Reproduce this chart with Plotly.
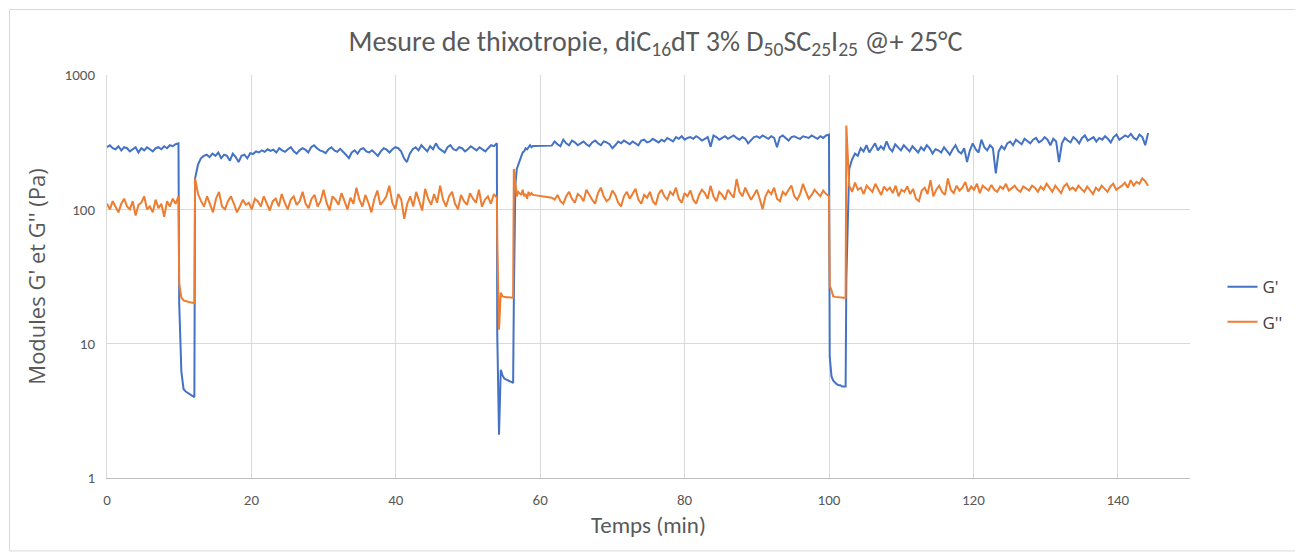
import numpy as np
import plotly.graph_objects as go

# ---- Data ----
# Each segment: (t_start, t_end), G' values, G'' values; times spread evenly in the segment
rest1_t = (0.0, 9.9)
rest1_gp = [290, 300, 285, 280, 295, 275, 290, 285, 270, 280, 290, 265, 285, 275, 290, 280, 270, 285,
            290, 280, 295, 285, 300, 295, 305, 310]
rest1_gpp = [110, 100, 115, 105, 95, 110, 120, 105, 100, 115, 90, 108, 112, 125, 100, 105, 95, 118,
             102, 110, 88, 115, 105, 120, 110, 125]

shear1_t = (10.0, 12.1)
shear1_gp = [20, 6.2, 4.6, 4.4, 4.3, 4.2, 4.1, 4.0]
shear1_gpp = [28, 22, 21, 20.8, 20.5, 20.3, 20.2, 20.0]

rest2_t = (12.2, 54.0)
rest2_gp = [170, 215, 240, 250, 255, 245, 260, 250, 265, 240, 255, 250, 230, 260, 245, 225, 250, 255,
            240, 262, 258, 270, 265, 275, 268, 280, 272, 278, 265, 285, 275, 268, 280, 290, 270, 260,
            275, 285, 278, 265, 290, 300, 285, 275, 270, 262, 280, 290, 275, 268, 282, 270, 255, 240,
            265, 275, 260, 280, 285, 270, 265, 275, 260, 250, 270, 285, 278, 265, 280, 290, 285, 270,
            240, 225, 260, 280, 290, 275, 300, 285, 270, 295, 280, 310, 285, 275, 265, 290, 300, 280,
            275, 290, 285, 270, 280, 295, 285, 275, 290, 280, 270, 285, 300, 295, 310]
rest2_gpp = [170, 130, 115, 105, 125, 110, 95, 120, 135, 105, 100, 115, 125, 110, 95, 105, 118, 108,
             112, 100, 120, 115, 105, 125, 110, 98, 115, 120, 105, 130, 112, 100, 118, 125, 108, 115,
             135, 110, 102, 120, 128, 105, 115, 140, 112, 98, 125, 118, 108, 132, 115, 100, 122, 110,
             145, 118, 105, 128, 112, 95, 120, 138, 108, 115, 125, 150, 112, 100, 130, 118, 85, 110,
             125, 105, 135, 115, 98, 142, 120, 108, 130, 112, 150, 118, 105, 125, 135, 110, 100, 128,
             115, 108, 132, 120, 112, 140, 105, 118, 125, 110, 130, 122]

shear2_t = (54.05, 56.25)
shear2_gp = [12, 2.1, 6.4, 5.8, 5.5, 5.4, 5.3, 5.25, 5.2, 5.1]
shear2_gpp = [60, 12.7, 24, 22.5, 22.3, 22.2, 22.2, 22.1, 22.0, 22.0]

rest3a_t = (56.35, 59.0)
rest3a_gp = [22, 150, 200, 215, 235, 250, 265, 270, 285, 280, 290, 300, 290, 296]
rest3a_gpp = [200, 150, 125, 135, 130, 128, 140, 125, 130, 120, 135, 128, 132, 128]

rest3b_t = (61.6, 100.0)
rest3b_gp = [298, 320, 305, 295, 330, 310, 300, 325, 315, 300, 310, 320, 305, 295, 315, 325, 310, 300,
             320, 315, 305, 285, 300, 320, 310, 325, 315, 305, 320, 310, 300, 325, 330, 315, 320, 335,
             325, 315, 330, 320, 340, 330, 320, 345, 335, 350, 330, 340, 345, 335, 350, 340, 325, 335,
             345, 292, 355, 345, 330, 340, 350, 335, 345, 355, 340, 330, 345, 335, 310, 330, 345, 350,
             340, 355, 345, 335, 350, 340, 290, 345, 355, 340, 325, 345, 350, 340, 335, 350, 345, 340,
             355, 345, 335, 350, 340, 355, 360]
rest3b_gpp = [122, 118, 128, 115, 110, 125, 135, 120, 112, 130, 125, 115, 140, 128, 118, 110, 132, 145,
              125, 115, 120, 138, 128, 112, 105, 125, 135, 120, 130, 142, 118, 110, 128, 122, 135, 115,
              108, 130, 140, 125, 118, 135, 128, 145, 120, 112, 132, 125, 138, 118, 110, 128, 140, 132,
              120, 150, 125, 115, 135, 128, 118, 140, 130, 122, 168, 135, 125, 145, 130, 118, 128, 140,
              120, 100, 125, 138, 130, 145, 120, 115, 135, 128, 140, 150, 125, 118, 130, 155, 135, 120,
              128, 140, 132, 125, 138, 130, 125]

shear3_t = (100.1, 102.3)
shear3_gp = [8, 5.7, 5.3, 5.1, 5.0, 4.9, 4.9, 4.8, 4.8, 4.8]
shear3_gpp = [27, 25, 22.5, 22.3, 22.2, 22.1, 22.0, 22.0, 22.0, 22.0]

rest4_t = (102.4, 144.2)
rest4_gp = [30, 200, 235, 260, 250, 285, 270, 300, 265, 290, 310, 275, 295, 280, 320, 285, 270, 305,
            290, 275, 300, 285, 270, 295, 280, 265, 290, 275, 300, 285, 260, 280, 275, 265, 290, 270,
            255, 280, 300, 270, 260, 285, 225, 275, 310, 280, 265, 330, 290, 275, 300, 285, 185, 270,
            295, 280, 310, 320, 300, 330, 315, 305, 335, 320, 310, 330, 340, 315, 325, 345, 330, 300,
            335, 320, 225, 310, 340, 325, 315, 345, 330, 310, 340, 355, 325, 335, 345, 320, 340, 330,
            350, 335, 315, 345, 360, 330, 340, 355, 345, 365, 340, 330, 360, 345, 300, 370]
rest4_gpp = [420, 150, 135, 158, 140, 145, 130, 150, 142, 135, 155, 140, 128, 148, 138, 145, 132, 150,
             125, 140, 135, 148, 130, 142, 120, 115, 138, 145, 130, 165, 125, 140, 150, 135, 128, 170,
             140, 132, 150, 138, 145, 160, 135, 148, 140, 155, 132, 150, 145, 138, 152, 140, 135, 148,
             142, 155, 138, 145, 150, 140, 135, 148, 142, 138, 150, 145, 135, 148, 140, 155, 145, 135,
             150, 140, 132, 148, 155, 140, 145, 138, 150, 142, 135, 148, 140, 130, 145, 138, 150, 142,
             135, 148, 155, 140, 145, 150, 158, 145, 165, 150, 160, 155, 170, 162, 150]

x_ticks = [0, 20, 40, 60, 80, 100, 120, 140]
y_ticks = [1, 10, 100, 1000]
y_tick_labels = ["1", "10", "100", "1000"]

segments = [
    (rest1_t, rest1_gp, rest1_gpp),
    (shear1_t, shear1_gp, shear1_gpp),
    (rest2_t, rest2_gp, rest2_gpp),
    (shear2_t, shear2_gp, shear2_gpp),
    (rest3a_t, rest3a_gp, rest3a_gpp),
    (rest3b_t, rest3b_gp, rest3b_gpp),
    (shear3_t, shear3_gp, shear3_gpp),
    (rest4_t, rest4_gp, rest4_gpp),
]

t_gp, v_gp, t_gpp, v_gpp = [], [], [], []
for (t0, t1), gp, gpp in segments:
    t_gp.extend(np.linspace(t0, t1, len(gp)).tolist())
    v_gp.extend(gp)
    t_gpp.extend(np.linspace(t0, t1, len(gpp)).tolist())
    v_gpp.extend(gpp)

NARROW = "Carlito, Calibri, sans-serif"
WIDE = "Open Sans, sans-serif"
GRAY = "#595959"

fig = go.Figure()
fig.add_trace(go.Scatter(x=t_gp, y=v_gp, mode="lines", name="G'",
                         line=dict(color="#4472C4", width=2), legendgroup="a"))
fig.add_trace(go.Scatter(x=t_gpp, y=v_gpp, mode="lines", name="G''",
                         line=dict(color="#ED7D31", width=2), legendgroup="b"))

# page body has an 8px margin: figure is offset by 8px
fig.update_layout(
    width=1295, height=546,
    margin=dict(l=99, r=113, t=67, b=76),
    paper_bgcolor="white", plot_bgcolor="white",
    title=dict(text="Mesure de thixotropie, diC<sub>16</sub>dT 3% D<sub>50</sub>SC<sub>25</sub>I<sub>25</sub> @+ 25°C",
               x=0.5, xanchor="center", y=0.94, yanchor="middle",
               font=dict(family=NARROW, size=28, color=GRAY)),
    legend=dict(x=1.03, y=0.43, xanchor="left", yanchor="middle",
                font=dict(family=WIDE, size=17, color="#404040"),
                tracegroupgap=10, itemwidth=30, bgcolor="rgba(0,0,0,0)"),
    xaxis=dict(range=[0, 150], tickvals=x_ticks, showgrid=True, gridcolor="#d9d9d9", gridwidth=1,
               showline=True, linecolor="#bfbfbf", linewidth=1, zeroline=False,
               tickfont=dict(family=NARROW, size=15, color=GRAY), ticks="", ticklabelstandoff=8,
               title=dict(text="Temps (min)", font=dict(family=NARROW, size=23, color=GRAY), standoff=8)),
    yaxis=dict(type="log", range=[0, 3], tickvals=y_ticks, ticktext=y_tick_labels,
               showgrid=True, gridcolor="#d9d9d9", gridwidth=1,
               showline=True, linecolor="#d9d9d9", linewidth=1, zeroline=False,
               tickfont=dict(family=NARROW, size=15, color=GRAY), ticks="", ticklabelstandoff=8,
               title=dict(text="Modules G' et G'' (Pa)", font=dict(family=WIDE, size=22, color=GRAY),
                          standoff=12)),
    shapes=[dict(type="rect", xref="paper", yref="paper",
                 x0=-0.0900, x1=1.0979, y0=-0.181, y1=1.1625,
                 line=dict(color="#d9d9d9", width=1), fillcolor="rgba(0,0,0,0)", layer="below")],
)

fig.write_html("out.html")
